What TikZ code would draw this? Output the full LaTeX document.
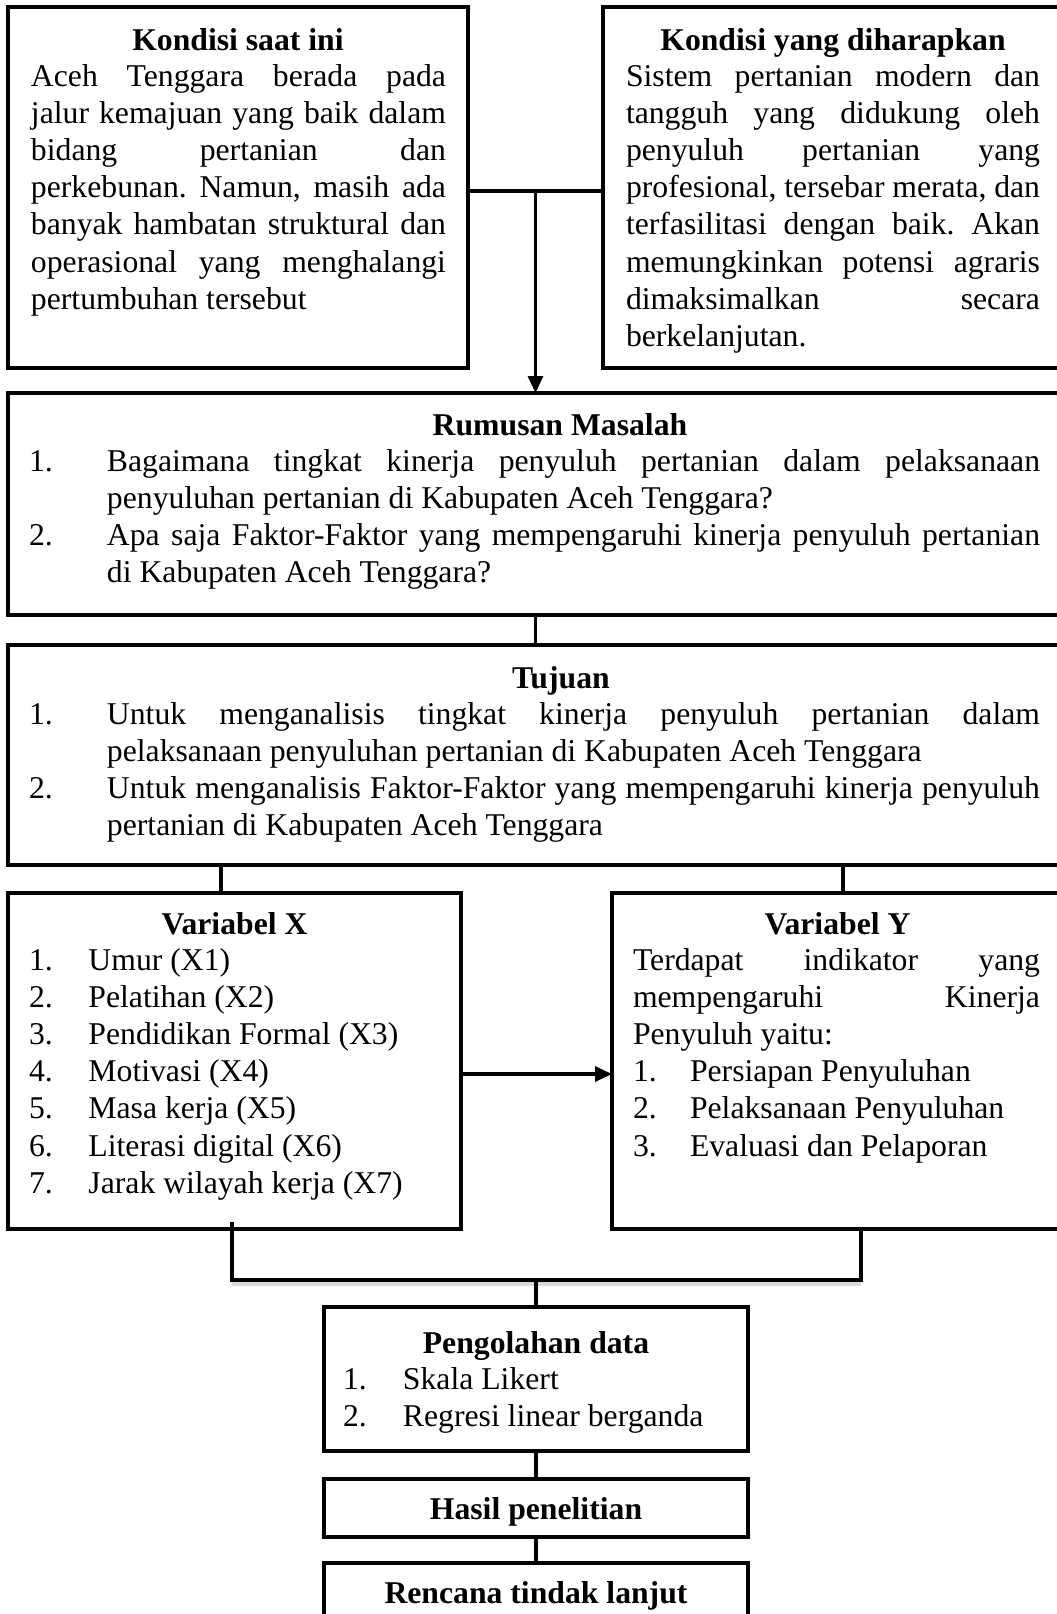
\documentclass[tikz,border=0pt]{standalone}
\usepackage{fontspec}
\setmainfont{Liberation Serif}
\usetikzlibrary{arrows.meta,positioning,calc}

% isi kotak: lebar, tinggi, jarak atas, isi
\newcommand{\isikotak}[4]{%
  \begin{minipage}[t][#2][t]{#1}%
    \vspace*{#3}%
    \hyphenpenalty=10000 \exhyphenpenalty=10000
    \tolerance=10000 \hbadness=10000 \parindent=0pt
    \frenchspacing
    \spaceskip=.25em plus .2em minus .12em
    #4%
  \end{minipage}}
% judul kotak (tebal, di tengah)
\newcommand{\judul}[2][0pt]{\centerline{\hspace*{#1}\bfseries\strut #2}\vspace{-1.5pt}}
% butir bernomor: indentasi, nomor, teks
\newcommand{\butir}[3]{\par\hangindent=#1\hangafter=1\noindent\makebox[#1][l]{#2}#3\par}

\begin{document}
\begin{tikzpicture}[x=1pt,y=-1pt,
    kotak/.style={draw, line width=3.2pt, inner sep=0pt, outer sep=0pt,
      anchor=north west, font=\fontsize{31.7}{37.1}\selectfont},
    kotakjudul/.style={kotak, minimum width=424pt, minimum height=58pt,
      text height=27pt, text depth=4pt,
      font=\fontsize{31.7}{37.1}\selectfont\bfseries},
    garis/.style={line width=3.2pt},
    panah/.style={garis, -{Triangle[length=17pt,width=15pt]}}]
    \useasboundingbox (0,0) rectangle (1057,1614);

    % Kondisi saat ini dan kondisi yang diharapkan
    \node[kotak] (kini) at (8,7) {\isikotak{460pt}{361pt}{18pt}{%
      \judul{Kondisi saat ini}
      \leftskip=23pt \rightskip=22pt
      Aceh Tenggara berada pada\linebreak
      jalur kemajuan yang baik dalam\linebreak
      bidang pertanian dan\linebreak
      perkebunan. Namun, masih ada\linebreak
      banyak hambatan struktural dan\linebreak
      operasional yang menghalangi\linebreak
      pertumbuhan tersebut\par}};
    \node[kotak] (harap) at (603,7) {\isikotak{460pt}{361pt}{18pt}{%
      \judul{Kondisi yang diharapkan}
      \leftskip=23pt \rightskip=23pt
      Sistem pertanian modern dan\linebreak
      tangguh yang didukung oleh\linebreak
      penyuluh pertanian yang\linebreak
      profesional, tersebar merata, dan\linebreak
      terfasilitasi dengan baik. Akan\linebreak
      memungkinkan potensi agraris\linebreak
      dimaksimalkan secara\linebreak
      berkelanjutan.\par}};

    % Rumusan masalah
    \node[kotak] (rumusan) at (8,393) {\isikotak{1055pt}{222pt}{17pt}{%
      \judul[49pt]{Rumusan Masalah}
      \leftskip=21pt \rightskip=23pt
      \butir{78pt}{1.}{Bagaimana tingkat kinerja penyuluh pertanian dalam pelaksanaan\linebreak
        penyuluhan pertanian di Kabupaten Aceh Tenggara?}
      \butir{78pt}{2.}{Apa saja Faktor-Faktor yang mempengaruhi kinerja penyuluh pertanian\linebreak
        di Kabupaten Aceh Tenggara?}}};

    % Tujuan
    \node[kotak] (tujuan) at (8,645) {\isikotak{1055pt}{220pt}{18pt}{%
      \judul[51pt]{Tujuan}
      \leftskip=21pt \rightskip=23pt
      \butir{78pt}{1.}{Untuk menganalisis tingkat kinerja penyuluh pertanian dalam\linebreak
        pelaksanaan penyuluhan pertanian di Kabupaten Aceh Tenggara}
      \butir{78pt}{2.}{Untuk menganalisis Faktor-Faktor yang mempengaruhi kinerja penyuluh\linebreak
        pertanian di Kabupaten Aceh Tenggara}}};

    % Variabel X dan Variabel Y
    \node[kotak] (varx) at (8,893) {\isikotak{453pt}{336pt}{16pt}{%
      \judul{Variabel X}
      \leftskip=21pt
      \butir{59.5pt}{1.}{Umur (X1)}
      \butir{59.5pt}{2.}{Pelatihan (X2)}
      \butir{59.5pt}{3.}{Pendidikan Formal (X3)}
      \butir{59.5pt}{4.}{Motivasi (X4)}
      \butir{59.5pt}{5.}{Masa kerja (X5)}
      \butir{59.5pt}{6.}{Literasi digital (X6)}
      \butir{59.5pt}{7.}{Jarak wilayah kerja (X7)}}};
    \node[kotak] (vary) at (612,893) {\isikotak{451pt}{336pt}{16pt}{%
      \judul{Variabel Y}
      \leftskip=21pt \rightskip=23pt
      Terdapat indikator yang\linebreak
      mempengaruhi Kinerja\linebreak
      Penyuluh yaitu:\par
      \butir{57pt}{1.}{Persiapan Penyuluhan}
      \butir{57pt}{2.}{Pelaksanaan Penyuluhan}
      \butir{57pt}{3.}{Evaluasi dan Pelaporan}}};

    % Pengolahan data, hasil, rencana
    \node[kotak] (olah) at (324,1307) {\isikotak{424pt}{144pt}{21pt}{%
      \judul{Pengolahan data}
      \leftskip=19pt
      \butir{60pt}{1.}{Skala Likert}
      \butir{60pt}{2.}{Regresi linear berganda}}};
    \node[kotakjudul] (hasil) at (324,1479) {Hasil penelitian};
    \node[kotakjudul] (rencana) at (324,1563) {Rencana tindak lanjut};

    % Penghubung antar kotak
    \draw[garis] ([yshift=-3.5pt]kini.east) -- coordinate (tengah) ([yshift=-3.5pt]harap.west);
    \draw[panah] (tengah) -- (tengah |- rumusan.north);
    \foreach \a/\b in {rumusan/tujuan, olah/hasil, hasil/rencana}
      \draw[garis] (\a.south) -- (\b.north);
    \coordinate (xatas) at ([xshift=-13.5pt]varx.north);
    \coordinate (yatas) at ([xshift=5.5pt]vary.north);
    \draw[garis] (xatas) -- (xatas |- tujuan.south);
    \draw[garis] (yatas) -- (yatas |- tujuan.south);
    \coordinate (xkanan) at ([yshift=-13pt]varx.east);
    \draw[panah] (xkanan) -- (xkanan -| vary.west);

    % Gabungan X dan Y ke pengolahan data
    \coordinate (xbawah) at ([xshift=-2.5pt,yshift=7pt]varx.south);
    \coordinate (ybawah) at ([xshift=23.5pt]vary.south);
    \coordinate (gabung) at ($(olah.north)+(0,-27)$);
    \coordinate (bayang) at ([yshift=-4pt]gabung);
    \draw[line width=4pt, black!15] (xbawah |- bayang) -- (ybawah |- bayang);
    \draw[garis] (xbawah) -- (xbawah |- gabung) -- (ybawah |- gabung) -- (ybawah);
    \draw[garis] (gabung) -- (olah.north);
\end{tikzpicture}
\end{document}
